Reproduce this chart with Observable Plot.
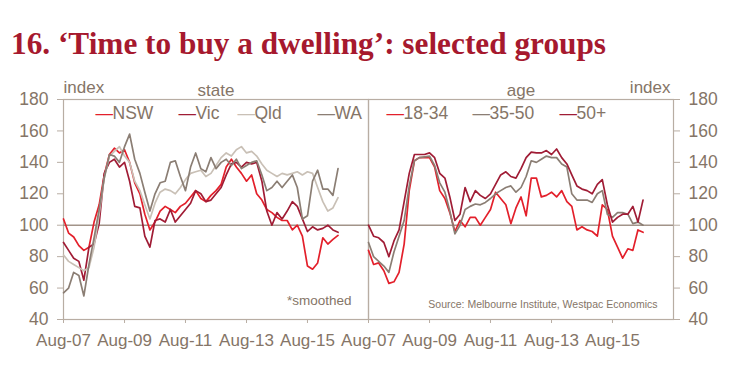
<!DOCTYPE html>
<html><head><meta charset="utf-8">
<script src="https://cdn.jsdelivr.net/npm/d3@7"></script>
<script src="https://cdn.jsdelivr.net/npm/@observablehq/plot@0.6"></script>
<style>
body{margin:0;background:#fff;width:752px;height:388px;overflow:hidden;position:relative;}
#title{position:absolute;left:11px;top:28px;font-family:"Liberation Serif","DejaVu Serif",serif;font-weight:bold;font-size:31px;line-height:1;color:#a6192e;white-space:nowrap;transform-origin:0 0;}
#chart{position:absolute;left:0;top:70px;}
</style></head><body>
<div id="title">16. ‘Time to buy a dwelling’: selected groups</div>
<div id="chart"></div>
<script>
// Data: bi-monthly readings starting Aug-2007
const startDate = "2007-08-01";
const stepMonths = 2;
const NSW = [104, 95, 92.5, 87, 84, 86, 102, 113, 132, 145, 149, 146, 148, 140, 127, 120, 107, 97, 102, 109, 112, 110, 108, 112, 114, 118, 122, 117, 115, 119, 122, 126, 137, 142, 137, 133, 128, 132, 120, 116, 110, 108, 105, 103, 103, 97, 100, 93, 74, 72, 76, 92, 88, 91, 93.5];
const Vic = [89, 84, 79, 77, 65, 86, 88, 101, 133, 140, 142, 137, 140, 128, 112, 111, 93, 86, 103, 104, 102, 110, 102, 106, 110, 114, 122, 120, 115, 116, 120, 124, 132, 139, 140, 137, 140, 139, 140, 128, 109, 100, 108, 104, 109, 115, 112, 104, 96, 99, 97, 98, 100, 97, 95.5];
const Qld = [81, 77, 75, 73, 71, 73, 86, 107, 130, 144, 147, 150, 144, 140, 128, 122, 113, 104, 114, 121, 123, 122, 120, 124, 129, 133, 134, 135, 131, 133, 138, 143, 146, 144, 148, 150, 146, 147, 144, 139, 135, 133, 131, 133, 132, 133, 134, 132, 134, 133, 124, 115, 109, 111, 117.5];
const WA = [57, 60, 70, 68, 55, 75, 92, 110, 130, 145, 144, 140, 150, 158, 142, 133, 121, 109, 120, 127, 128, 140, 141, 131, 122, 137, 146, 136, 134, 143, 136, 140, 142, 138, 142, 136, 138, 140, 141, 132, 122, 124, 128, 124, 128, 132, 124, 104, 106, 128, 135, 123, 123, 119, 136];
const age1834 = [84, 75, 76, 71, 63, 64, 70, 88, 122, 141, 143, 143, 143, 137, 122, 117, 108, 96, 103, 99, 105, 105, 100, 105, 110, 121, 117, 113, 101, 111, 118, 106, 130, 130, 118, 119, 121, 118, 122, 115, 112, 97, 99, 97, 96, 93, 113, 110, 93, 86, 79, 85, 84, 97, 95.5];
const age3550 = [89, 80, 77, 74, 70, 83, 93, 103, 125, 141, 143, 143.5, 144, 138, 127, 121, 109, 94.5, 100, 110, 112, 113.5, 113, 114.5, 117, 120, 122, 124, 125, 121, 124, 131, 141, 140, 142, 144, 143, 143, 139, 137, 120, 116, 116, 116, 114.5, 120, 122, 107, 105, 108, 108, 107, 101, 102, 100];
const age50 = [100, 93, 92, 89, 80, 90, 97, 115, 133, 145, 145, 145, 146, 143, 133, 130, 118, 103, 107, 124, 115, 122, 119, 117, 120, 126, 132, 134, 131, 130, 136, 143, 146.5, 146, 146, 147.5, 145, 148.5, 143, 139, 132, 125, 123, 122, 120, 126, 129, 113, 102, 105, 107, 107, 112, 102, 116];

const panels = ["state", "age"];
const stateNames = ["NSW", "Vic", "Qld", "WA"];
const ageNames = ["18-34", "35-50", "50+"];
const seriesColors = ["#e3202b", "#a01c35", "#c9c0b6", "#8b7e74", "#e3202b", "#8b7e74", "#a01c35"];
const yTicks = [40, 60, 80, 100, 120, 140, 160, 180];
const xTickLabels = ["Aug-07", "Aug-09", "Aug-11", "Aug-13", "Aug-15"];
const xDomainLabels = ["Aug-07", "Aug-17"];

const parseTick = d3.utcParse("%b-%y");
const fmtTick = d3.utcFormat("%b-%y");
const start = new Date(startDate + "T00:00:00Z");

const seriesDefs = [
  {panel: "state", name: "NSW", values: NSW},
  {panel: "state", name: "Vic", values: Vic},
  {panel: "state", name: "Qld", values: Qld},
  {panel: "state", name: "WA", values: WA},
  {panel: "age", name: "18-34", values: age1834},
  {panel: "age", name: "35-50", values: age3550},
  {panel: "age", name: "50+", values: age50}
];
const rows = seriesDefs.flatMap(s => s.values.map((v, i) => ({
  panel: s.panel, series: s.name, date: d3.utcMonth.offset(start, i * stepMonths), value: v
})));

const allNames = [...stateNames, ...ageNames];
const colorOf = name => seriesColors[allNames.indexOf(name)];
const textColor = "#857567";
const frameColor = "#b8ada3";

// legend layout (offsets from panel's left edge)
const legendItems = [
  {panel: "state", name: "NSW", dx: 32},
  {panel: "state", name: "Vic", dx: 115},
  {panel: "state", name: "Qld", dx: 174},
  {panel: "state", name: "WA", dx: 254},
  {panel: "age", name: "18-34", dx: 18},
  {panel: "age", name: "35-50", dx: 104},
  {panel: "age", name: "50+", dx: 191}
];
const legendMarks = legendItems.flatMap(it => [
  Plot.text([it], {fx: "panel", frameAnchor: "top-left", dx: it.dx, dy: 14, text: () => "—", fill: colorOf(it.name), fontSize: 17.5, textAnchor: "start", lineAnchor: "middle"}),
  Plot.text([it], {fx: "panel", frameAnchor: "top-left", dx: it.dx + 17, dy: 14, text: "name", fill: textColor, fontSize: 17.5, textAnchor: "start", lineAnchor: "middle"})
]);

const chart = Plot.plot({
  width: 752,
  height: 318,
  marginTop: 29,
  marginBottom: 69,
  marginLeft: 63,
  marginRight: 79,
  style: {fontFamily: "'Liberation Sans', Arial, sans-serif", color: textColor, background: "transparent", overflow: "visible"},
  fx: {domain: panels, padding: 0, axis: null},
  x: {type: "utc", domain: xDomainLabels.map(parseTick), axis: null},
  y: {domain: [40, 180], axis: null},
  color: {domain: allNames, range: seriesColors},
  marks: [
    Plot.frame({stroke: frameColor, strokeWidth: 1.2}),
    Plot.axisFx({anchor: "top", tickSize: 0, tickPadding: 4, fontSize: 17, label: null}),
    Plot.axisX({ticks: xTickLabels.map(parseTick), tickFormat: fmtTick, tickSize: 4, tickPadding: 10, fontSize: 17, stroke: frameColor, label: null}),
    Plot.axisY({anchor: "left", ticks: yTicks, tickSize: 6, tickPadding: 9, fontSize: 17.5, stroke: frameColor, label: null}),
    Plot.axisY({anchor: "right", ticks: yTicks, tickSize: 6, tickPadding: 9, fontSize: 17.5, stroke: frameColor, label: null}),
    Plot.ruleY([100], {stroke: "#a29489", strokeWidth: 1.4}),
    Plot.line(rows, {fx: "panel", x: "date", y: "value", z: "series", stroke: "series", strokeWidth: 1.7, curve: "linear"}),
    Plot.text([{panel: "state"}], {fx: "panel", frameAnchor: "top-left", dx: 0, dy: -7, text: () => "index", fontSize: 17, textAnchor: "start", lineAnchor: "bottom", fill: textColor}),
    Plot.text([{panel: "age"}], {fx: "panel", frameAnchor: "top-right", dx: -3, dy: -7, text: () => "index", fontSize: 17, textAnchor: "end", lineAnchor: "bottom", fill: textColor}),
    ...legendMarks,
    Plot.text([{panel: "state"}], {fx: "panel", frameAnchor: "bottom-right", dx: -17, dy: -19, text: () => "*smoothed", fontSize: 13.5, textAnchor: "end", lineAnchor: "middle", fill: textColor}),
    Plot.text([{panel: "age"}], {fx: "panel", frameAnchor: "bottom-right", dx: -16, dy: -15, text: () => "Source: Melbourne Institute, Westpac Economics", fontSize: 10.5, textAnchor: "end", lineAnchor: "middle", fill: textColor})
  ]
});
document.getElementById("chart").appendChild(chart);

// fit title width to reference (~595px)
const t = document.getElementById("title");
const w = t.getBoundingClientRect().width;
const target = 595;
t.style.transform = `scaleX(${target / w})`;
</script>
</body></html>
